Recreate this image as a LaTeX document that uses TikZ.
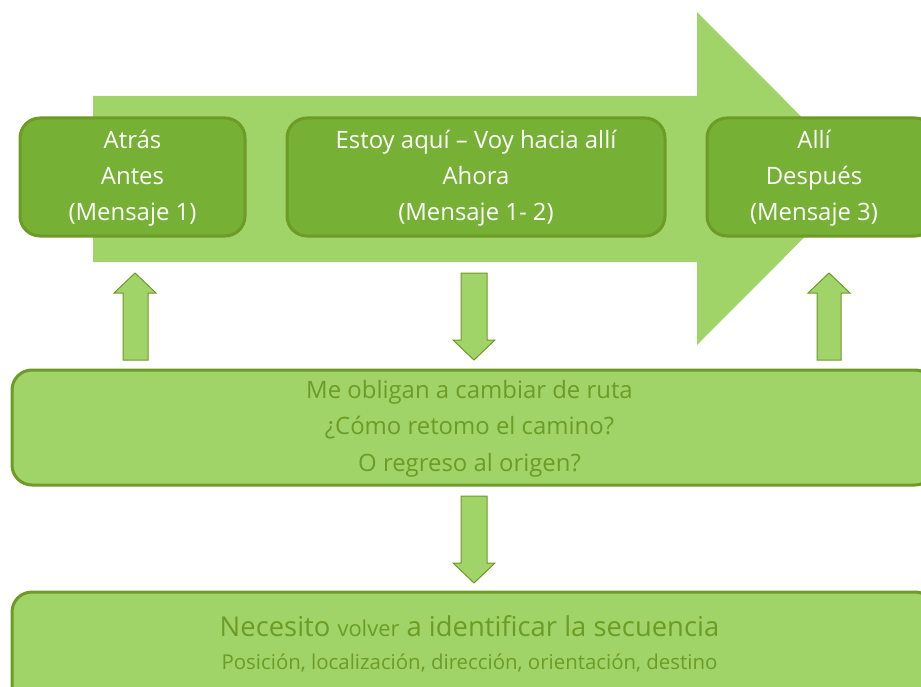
\documentclass[tikz,border=0pt]{standalone}
\usepackage{fontspec}
\setmainfont{Open Sans}
\definecolor{lightg}{HTML}{A0D468}
\definecolor{darkg}{HTML}{76B034}
\definecolor{oliveg}{HTML}{6E9A26}
\tikzset{
  darkbox/.style={draw=oliveg, line width=3bp, fill=darkg, rounded corners=20bp},
  lightbox/.style={draw=oliveg, line width=3bp, fill=lightg, rounded corners=20bp},
  txtw/.style={text=white, font=\fontsize{24}{36}\selectfont, align=center},
  txto/.style={text=oliveg, font=\fontsize{24}{36.5}\selectfont, align=center},
  blockarrow/.style={draw=oliveg, line width=1bp, fill=lightg},
}
\begin{document}
\begin{tikzpicture}[x=1bp,y=-1bp]
\useasboundingbox (0,0) rectangle (921,687);
% big arrow
\fill[lightg] (93,96) -- (697,96) -- (697,12) -- (863,178.5) -- (697,345) -- (697,262) -- (93,262) -- cycle;
% top boxes
\draw[darkbox] (20,118) rectangle (245,236);
\draw[darkbox] (287,118) rectangle (665,236);
\draw[darkbox] (707,118) rectangle (935,236);
\node[txtw] (b1) at (132.5,178.5) {Atrás\\Antes\\(Mensaje 1)};
\node[txtw] (b2) at (476,178.5) {Estoy aquí – Voy hacia allí\\Ahora\\(Mensaje 1- 2)};
\node[txtw] (b3) at (814,178.5) {Allí\\Después\\(Mensaje 3)};
% middle box
\draw[lightbox] (12,370) rectangle (935,485);
\node[txto] (m) at (469.5,428.5) {Me obligan a cambiar de ruta\\¿Cómo retomo el camino?\\O regreso al origen?};
% bottom box
\draw[lightbox] (12,592) rectangle (935,710);
\node[text=oliveg, align=center] (n) at (469.5,626) {\fontsize{27.5}{30}\selectfont Necesito {\fontsize{22}{30}\selectfont volver} a identificar la secuencia};
\node[text=oliveg, font=\fontsize{20.5}{24}\selectfont] (p) at (469.5,663) {Posición, localización, dirección, orientación, destino};
% small block arrows
\draw[blockarrow] (123,360) -- (123,293) -- (114,293) -- (135,273) -- (156,293) -- (148,293) -- (148,360) -- cycle;
\draw[blockarrow] (817,360) -- (817,293) -- (808,293) -- (829,273) -- (850,293) -- (841,293) -- (841,360) -- cycle;
\draw[blockarrow] (461,273) -- (487,273) -- (487,340) -- (495,340) -- (474,360) -- (453,340) -- (461,340) -- cycle;
\draw[blockarrow] (461,496) -- (487,496) -- (487,563) -- (495,563) -- (474,583) -- (453,563) -- (461,563) -- cycle;
\end{tikzpicture}
\end{document}
